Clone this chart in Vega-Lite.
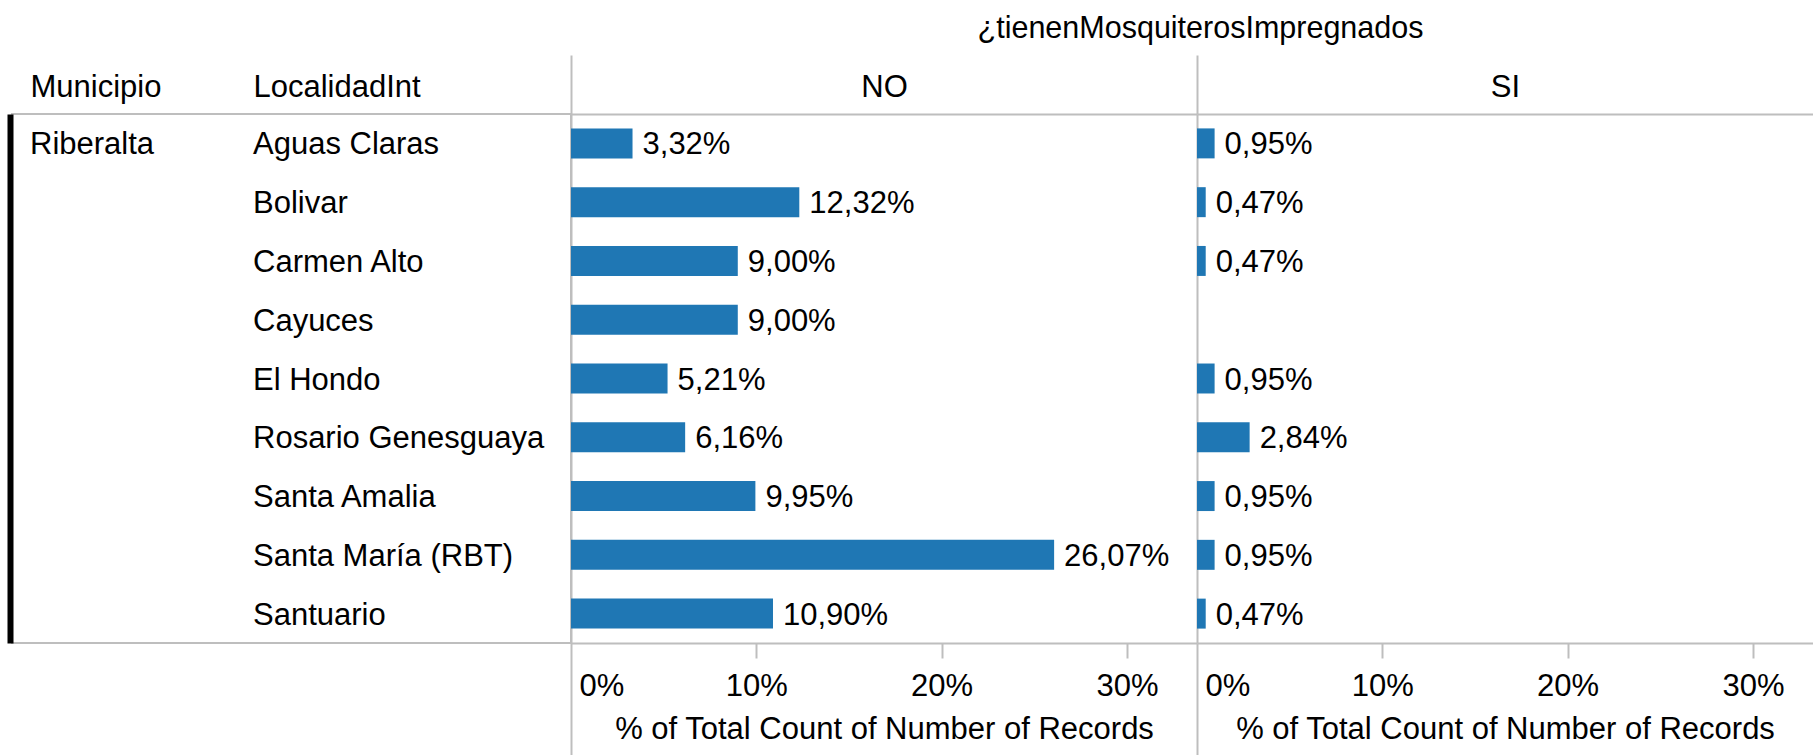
{
  "$schema": "https://vega.github.io/schema/vega-lite/v6.json",
  "autosize": {"type": "pad"},
  "padding": {"left": 9, "top": 14, "right": 0, "bottom": 0},
  "background": "white",
  "config": {
    "font": "Liberation Sans",
    "locale": {"number": {"decimal": ",", "thousands": ".", "grouping": [3], "currency": ["", " €"]}},
    "view": {"stroke": null},
    "axis": {
      "grid": false,
      "labelFont": "Liberation Sans",
      "titleFont": "Liberation Sans",
      "labelFontSize": 31,
      "titleFontSize": 31,
      "labelColor": "black",
      "titleColor": "black",
      "titleFontWeight": "normal",
      "domainColor": "#bebebe",
      "tickColor": "#bebebe",
      "domainWidth": 2,
      "tickWidth": 2
    },
    "title": {"font": "Liberation Sans", "fontSize": 30.5, "fontWeight": "normal", "color": "black"},
    "text": {"font": "Liberation Sans", "fontSize": 31, "color": "black"}
  },
  "datasets": {
    "d": [
      {"Municipio": "Riberalta", "LocalidadInt": "Aguas Claras", "tienen": "NO", "pct": 0.0332},
      {"Municipio": "Riberalta", "LocalidadInt": "Bolivar", "tienen": "NO", "pct": 0.1232},
      {"Municipio": "Riberalta", "LocalidadInt": "Carmen Alto", "tienen": "NO", "pct": 0.09},
      {"Municipio": "Riberalta", "LocalidadInt": "Cayuces", "tienen": "NO", "pct": 0.09},
      {"Municipio": "Riberalta", "LocalidadInt": "El Hondo", "tienen": "NO", "pct": 0.0521},
      {"Municipio": "Riberalta", "LocalidadInt": "Rosario Genesguaya", "tienen": "NO", "pct": 0.0616},
      {"Municipio": "Riberalta", "LocalidadInt": "Santa Amalia", "tienen": "NO", "pct": 0.0995},
      {"Municipio": "Riberalta", "LocalidadInt": "Santa María (RBT)", "tienen": "NO", "pct": 0.2607},
      {"Municipio": "Riberalta", "LocalidadInt": "Santuario", "tienen": "NO", "pct": 0.109},
      {"Municipio": "Riberalta", "LocalidadInt": "Aguas Claras", "tienen": "SI", "pct": 0.0095},
      {"Municipio": "Riberalta", "LocalidadInt": "Bolivar", "tienen": "SI", "pct": 0.0047},
      {"Municipio": "Riberalta", "LocalidadInt": "Carmen Alto", "tienen": "SI", "pct": 0.0047},
      {"Municipio": "Riberalta", "LocalidadInt": "El Hondo", "tienen": "SI", "pct": 0.0095},
      {"Municipio": "Riberalta", "LocalidadInt": "Rosario Genesguaya", "tienen": "SI", "pct": 0.0284},
      {"Municipio": "Riberalta", "LocalidadInt": "Santa Amalia", "tienen": "SI", "pct": 0.0095},
      {"Municipio": "Riberalta", "LocalidadInt": "Santa María (RBT)", "tienen": "SI", "pct": 0.0095},
      {"Municipio": "Riberalta", "LocalidadInt": "Santuario", "tienen": "SI", "pct": 0.0047}
    ]
  },
  "spacing": 0,
  "bounds": "flush",
  "hconcat": [
    {
      "width": 559,
      "height": 529,
      "view": {"stroke": "#bebebe", "strokeWidth": 2},
      "data": {"name": "d"},
      "transform": [
        {"aggregate": [{"op": "count", "as": "n"}], "groupby": ["Municipio", "LocalidadInt"]},
        {"window": [{"op": "row_number", "as": "rn"}], "sort": [{"field": "LocalidadInt", "order": "ascending"}], "groupby": ["Municipio"]},
        {"fold": ["Municipio", "LocalidadInt"], "as": ["col", "label"]},
        {"filter": "datum.col === 'LocalidadInt' || datum.rn === 1"}
      ],
      "mark": {"type": "text", "align": "left", "baseline": "middle", "dy": 2, "fontSize": 31},
      "encoding": {
        "x": {
          "field": "col",
          "type": "nominal",
          "scale": {"type": "point", "domain": ["Municipio", "LocalidadInt"], "range": [18, 241], "padding": 0},
          "axis": {"orient": "top", "title": null, "domain": false, "ticks": false, "tickSize": 0, "labelAlign": "left", "labelBaseline": "alphabetic", "labelPadding": 18, "labelAngle": 0}
        },
        "y": {
          "field": "LocalidadInt",
          "type": "nominal",
          "scale": {"type": "band", "domain": ["Aguas Claras", "Bolivar", "Carmen Alto", "Cayuces", "El Hondo", "Rosario Genesguaya", "Santa Amalia", "Santa María (RBT)", "Santuario"], "paddingInner": 0.49, "paddingOuter": 0.245},
          "axis": {"orient": "left", "labels": false, "ticks": false, "title": null, "domainColor": "black", "domainWidth": 6, "offset": 2}
        },
        "text": {"field": "label", "type": "nominal"}
      }
    },
    {
      "title": {"text": "¿tienenMosquiterosImpregnados", "anchor": "middle", "baseline": "alphabetic", "offset": -14.5, "dx": 9, "fontSize": 30.5},
      "spacing": 0,
      "bounds": "flush",
      "hconcat": [
        {
          "width": 626,
          "height": 529,
          "data": {"name": "d"},
          "transform": [{"filter": "datum.tienen === 'NO'"}],
          "encoding": {
            "y": {
              "field": "LocalidadInt",
              "type": "nominal",
              "scale": {"type": "band", "domain": ["Aguas Claras", "Bolivar", "Carmen Alto", "Cayuces", "El Hondo", "Rosario Genesguaya", "Santa Amalia", "Santa María (RBT)", "Santuario"], "paddingInner": 0.49, "paddingOuter": 0.245},
              "axis": {"orient": "left", "labels": false, "ticks": false, "title": null, "domain": true}
            }
          },
          "layer": [
            {
              "mark": {"type": "bar", "color": "#1f77b4"},
              "encoding": {
                "x": {
                  "field": "pct",
                  "type": "quantitative",
                  "scale": {"domain": [0, 0.3378], "nice": false, "zero": true},
                  "axis": {
                    "orient": "bottom",
                    "values": [0, 0.1, 0.2, 0.3],
                    "format": ".0%",
                    "tickSize": 114,
                    "tickDash": {"condition": {"test": "datum.value === 0", "value": []}, "value": [15, 400]},
                    "labelPadding": -85.5,
                    "labelFlush": true,
                    "labelFlushOffset": -8,
                    "title": "% of Total Count of Number of Records",
                    "titleY": 95,
                    "titleBaseline": "alphabetic"
                  }
                }
              }
            },
            {
              "mark": {"type": "text", "align": "left", "baseline": "middle", "dx": 10, "dy": 2, "fontSize": 31},
              "encoding": {
                "x": {
                  "field": "pct",
                  "type": "quantitative",
                  "axis": {"orient": "top", "values": [0], "tickSize": 59, "labels": false, "title": "NO", "titleY": -18, "titleBaseline": "alphabetic", "domain": true}
                },
                "text": {"field": "pct", "type": "quantitative", "format": ".2%"}
              }
            }
          ],
          "resolve": {"axis": {"x": "independent"}}
        },
        {
          "width": 616,
          "height": 529,
          "data": {"name": "d"},
          "transform": [{"filter": "datum.tienen === 'SI'"}],
          "encoding": {
            "y": {
              "field": "LocalidadInt",
              "type": "nominal",
              "scale": {"type": "band", "domain": ["Aguas Claras", "Bolivar", "Carmen Alto", "Cayuces", "El Hondo", "Rosario Genesguaya", "Santa Amalia", "Santa María (RBT)", "Santuario"], "paddingInner": 0.49, "paddingOuter": 0.245},
              "axis": {"orient": "left", "labels": false, "ticks": false, "title": null, "domain": true}
            }
          },
          "layer": [
            {
              "mark": {"type": "bar", "color": "#1f77b4"},
              "encoding": {
                "x": {
                  "field": "pct",
                  "type": "quantitative",
                  "scale": {"domain": [0, 0.3324], "nice": false, "zero": true},
                  "axis": {
                    "orient": "bottom",
                    "values": [0, 0.1, 0.2, 0.3],
                    "format": ".0%",
                    "tickSize": 114,
                    "tickDash": {"condition": {"test": "datum.value === 0", "value": []}, "value": [15, 400]},
                    "labelPadding": -85.5,
                    "labelFlush": true,
                    "labelFlushOffset": -8,
                    "title": "% of Total Count of Number of Records",
                    "titleY": 95,
                    "titleBaseline": "alphabetic"
                  }
                }
              }
            },
            {
              "mark": {"type": "text", "align": "left", "baseline": "middle", "dx": 10, "dy": 2, "fontSize": 31},
              "encoding": {
                "x": {
                  "field": "pct",
                  "type": "quantitative",
                  "axis": {"orient": "top", "values": [0], "tickSize": 59, "labels": false, "title": "SI", "titleY": -18, "titleBaseline": "alphabetic", "domain": true}
                },
                "text": {"field": "pct", "type": "quantitative", "format": ".2%"}
              }
            }
          ],
          "resolve": {"axis": {"x": "independent"}}
        }
      ]
    }
  ]
}
